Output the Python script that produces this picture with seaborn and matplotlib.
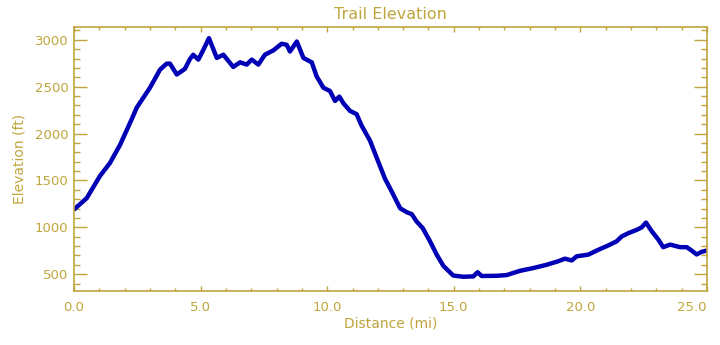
import matplotlib
matplotlib.use("Agg")
import matplotlib.pyplot as plt
import seaborn as sns
import pandas as pd
from matplotlib.ticker import MultipleLocator

# trail profile
distance_mi = [0.0, 0.5, 1.03, 1.42, 1.82, 2.28, 2.48, 3.0, 3.40, 3.66, 3.79, 4.06, 4.38,
               4.58, 4.71, 4.91, 5.11, 5.33, 5.64, 5.90, 6.29, 6.56, 6.82, 7.02, 7.28,
               7.54, 7.87, 8.20, 8.40, 8.53, 8.80, 9.06, 9.39, 9.58, 9.85, 10.11, 10.31,
               10.48, 10.64, 10.90, 11.16, 11.36, 11.69, 12.02, 12.28, 12.55, 12.88,
               13.14, 13.34, 13.53, 13.77, 14.06, 14.32, 14.59, 14.98, 15.38, 15.77,
               15.94, 16.10, 16.69, 17.09, 17.61, 18.14, 18.67, 19.13, 19.39, 19.66,
               19.85, 20.31, 20.71, 21.10, 21.43, 21.63, 21.89, 22.22, 22.42, 22.59,
               22.82, 23.08, 23.27, 23.54, 23.93, 24.20, 24.39, 24.59, 24.79, 25.0]
elevation_ft = [1190, 1310, 1549, 1686, 1880, 2154, 2278, 2489, 2683, 2746, 2746, 2630, 2690,
                2796, 2841, 2789, 2894, 3018, 2807, 2841, 2711, 2760, 2736, 2789, 2736,
                2841, 2887, 2958, 2947, 2876, 2982, 2807, 2760, 2612, 2489, 2454, 2348,
                2394, 2323, 2242, 2207, 2084, 1925, 1697, 1520, 1380, 1203,
                1161, 1140, 1062, 992, 851, 710, 587, 485, 472, 476,
                520, 480, 482, 490, 535, 565, 600, 638, 665, 646,
                690, 708, 760, 806, 850, 902, 937, 972, 999, 1050,
                957, 868, 788, 815, 788, 788, 752, 710, 738, 752]

x_ticks = [0, 5, 10, 15, 20, 25]
x_tick_labels = ["0.0", "5.0", "10.0", "15.0", "20.0", "25.0"]
y_ticks = [500, 1000, 1500, 2000, 2500, 3000]

df = pd.DataFrame({"distance": distance_mi, "elevation": elevation_ft})

gold = "#bfa53c"
sns.set_style("white")
plt.rcParams["font.family"] = ["DejaVu Sans"]

fig = plt.figure(figsize=(7.2, 3.45), dpi=100)
ax = fig.add_axes([74 / 720, 1 - 291 / 345, 633 / 720, 264 / 345])

sns.lineplot(data=df, x="distance", y="elevation", ax=ax, sort=False,
             estimator=None, color="#0000b4", linewidth=3.2)

ax.set_xlim(0, 25)
ax.set_ylim(320, 3137)
ax.set_xticks(x_ticks)
ax.set_xticklabels(x_tick_labels)
ax.set_yticks(y_ticks)
ax.xaxis.set_minor_locator(MultipleLocator(1))
ax.yaxis.set_minor_locator(MultipleLocator(100))

for s in ax.spines.values():
    s.set_color(gold)
    s.set_linewidth(1.2)

ax.tick_params(axis="x", which="major", direction="in", length=3.8, width=1,
               color=gold, labelcolor=gold, labelsize=9.5, pad=7, top=True, bottom=True)
ax.tick_params(axis="x", which="minor", direction="in", length=1.9, width=1,
               color=gold, top=True, bottom=True)
ax.tick_params(axis="y", which="major", direction="in", length=9.1, width=1,
               color=gold, labelcolor=gold, labelsize=9.5, pad=4, left=True, right=True)
ax.tick_params(axis="y", which="minor", direction="in", length=4.6, width=1,
               color=gold, left=True, right=True)

# keep the last x label inside the canvas
ax.get_xticklabels()[-1].set_horizontalalignment("right")
ax.get_xticklabels()[-1].set_x(25.0)

ax.set_xlabel("Distance (mi)", color=gold, fontsize=10, labelpad=2)
ax.set_ylabel("Elevation (ft)", color=gold, fontsize=10, labelpad=6)
ax.set_title("Trail Elevation", color=gold, fontsize=11.5, pad=6)

fig.savefig("out.png", dpi=100)
